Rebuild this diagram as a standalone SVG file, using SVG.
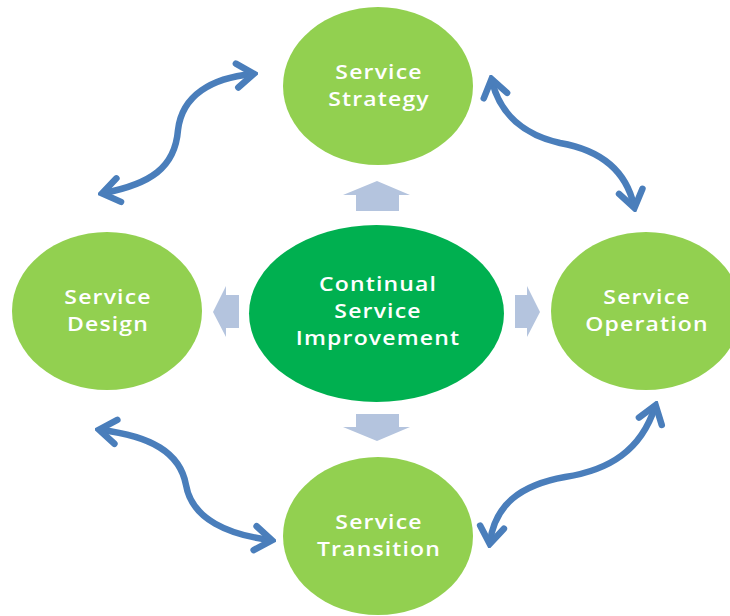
<svg xmlns="http://www.w3.org/2000/svg" width="730" height="616" viewBox="0 0 730 616">
<defs>
<style>
.outer{fill:#92d050}
.inner{fill:#00b050}
.lbl{font-family:"Open Sans","Liberation Sans",sans-serif;font-weight:600;font-size:20px;fill:#ffffff;text-anchor:middle;letter-spacing:1px}
.block{fill:#b4c4de}
.curve{fill:none;stroke:#4a7ebb;stroke-width:6.5;stroke-linecap:round}
</style>
<marker id="chev" markerUnits="userSpaceOnUse" viewBox="-20 -16 26 32" refX="0" refY="0" markerWidth="26" markerHeight="32" orient="auto-start-reverse">
<polyline points="-15,-12 2,0 -15,12" fill="none" stroke="#4a7ebb" stroke-width="6.5" stroke-linecap="round" stroke-linejoin="miter"/>
</marker>
</defs>
<rect width="730" height="616" fill="#ffffff"/>
<g id="connectors">
<polygon class="block" points="377,181 410,195 399,195 399,211 356,211 356,195 343,195"/>
<polygon class="block" points="356,414 399,414 399,427 410,427 377,441 343,427 356,427"/>
<polygon class="block" points="213,312 226,286 226,295 239,295 239,328 226,328 226,337"/>
<polygon class="block" points="540,312 527,286 527,295 515,295 515,328 527,328 527,337"/>
<path class="curve" marker-start="url(#chev)" marker-end="url(#chev)" d="M 104,193 C 150,184 175,168 178,130 C 182,95 212,78 252,74"/>
<path class="curve" marker-start="url(#chev)" marker-end="url(#chev)" d="M 492,81 C 500,115 525,135 560,143 C 600,150 626,170 634,206"/>
<path class="curve" marker-start="url(#chev)" marker-end="url(#chev)" d="M 101,430 C 150,436 180,452 186,485 C 192,520 230,535 270,540"/>
<path class="curve" marker-start="url(#chev)" marker-end="url(#chev)" d="M 655,407 C 641,450 610,470 565,477 C 520,485 495,505 490,542"/>
</g>
<g id="node-strategy">
<ellipse class="outer" cx="378" cy="86" rx="95" ry="79"/>
<g transform="matrix(1.15,0,0,1,-56.85,0)">
<text class="lbl" x="379" y="79">Service</text>
<text class="lbl" x="379" y="106">Strategy</text>
</g>
</g>
<g id="node-design">
<ellipse class="outer" cx="107" cy="311" rx="95" ry="79"/>
<g transform="matrix(1.15,0,0,1,-16.2,0)">
<text class="lbl" x="108" y="304">Service</text>
<text class="lbl" x="108" y="331">Design</text>
</g>
</g>
<g id="node-operation">
<ellipse class="outer" cx="646" cy="311" rx="95" ry="79"/>
<g transform="matrix(1.15,0,0,1,-97.05,0)">
<text class="lbl" x="647" y="304">Service</text>
<text class="lbl" x="647" y="331">Operation</text>
</g>
</g>
<g id="node-transition">
<ellipse class="outer" cx="378" cy="536" rx="95" ry="79"/>
<g transform="matrix(1.15,0,0,1,-56.85,0)">
<text class="lbl" x="379" y="529">Service</text>
<text class="lbl" x="379" y="556">Transition</text>
</g>
</g>
<g id="node-csi">
<ellipse class="inner" cx="376.5" cy="313.5" rx="127.5" ry="88.5"/>
<g transform="matrix(1.15,0,0,1,-56.7,0)">
<text class="lbl" x="378" y="291">Continual</text>
<text class="lbl" x="378" y="318">Service</text>
<text class="lbl" x="378" y="345">Improvement</text>
</g>
</g>
</svg>
